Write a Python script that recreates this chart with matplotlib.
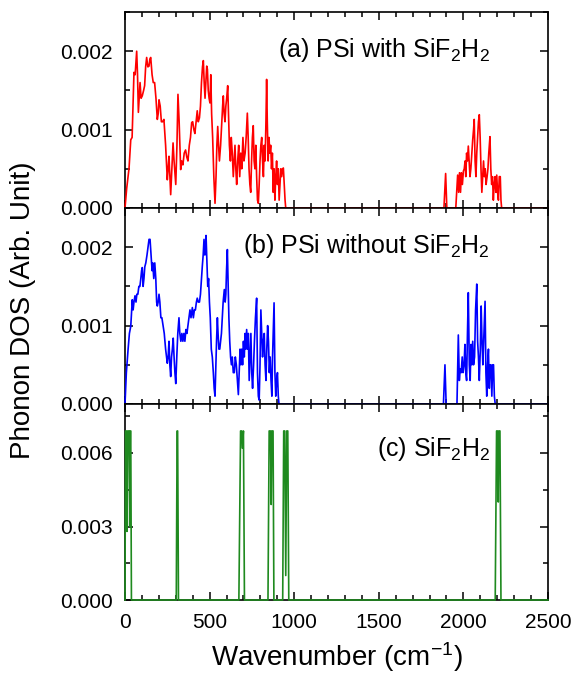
import matplotlib
matplotlib.use("Agg")
import matplotlib.pyplot as plt
from matplotlib.ticker import MultipleLocator, FormatStrFormatter

plt.rcParams['font.family'] = ['Liberation Sans', 'DejaVu Sans']
plt.rcParams['mathtext.fontset'] = 'custom'
plt.rcParams['mathtext.rm'] = 'Liberation Sans'
plt.rcParams['mathtext.it'] = 'Liberation Sans:italic'

# ---------------- data ----------------
red_x = [0, 10, 24, 34, 42, 50, 53, 60, 69, 74, 79, 89, 95, 102, 110, 116, 122, 128, 135, 142, 147, 152,
         160, 167, 175, 183, 191, 196, 201, 208, 215, 222, 230, 240, 250, 255, 260, 265, 270, 277, 284,
         290, 300, 307, 313, 320, 329, 335, 342, 350, 358, 365, 372, 380, 387, 394, 400, 407, 413, 420,
         427, 433, 440, 446, 452, 458, 463, 468, 473, 478, 483, 487, 492, 497, 502, 507, 512, 518, 525,
         532, 538, 543, 548, 553, 558, 565, 572, 577, 581, 586, 591, 596, 601, 607, 612, 617, 623, 628,
         634, 640, 645, 650, 655, 660, 666, 672, 678, 684, 690, 697, 703, 710, 716, 723, 728, 733, 738,
         743, 748, 753, 758, 763, 768, 773, 778, 783, 788, 793, 798, 803, 808, 813, 818, 823, 828, 833,
         837, 841, 846, 851, 856, 861, 866, 871, 876, 881, 886, 891, 896, 901, 906, 911, 916, 921, 926,
         931, 936, 941, 946, 950,
         1885, 1895, 1902, 1955, 1966, 1972, 1977, 1983, 1988, 1994, 2000, 2005, 2010, 2014, 2019, 2024,
         2029, 2034, 2039, 2044, 2050, 2055, 2060, 2064, 2069, 2074, 2079, 2084, 2089, 2094, 2099, 2104,
         2109, 2114, 2119, 2124, 2129, 2134, 2140, 2145, 2150, 2157, 2162, 2167, 2172, 2177, 2182, 2187,
         2192, 2197, 2202, 2207, 2212, 2218, 2222, 2226, 2500]
red_y = [0, 0.00025, 0.00051, 0.00087, 0.0009, 0.0015, 0.00173, 0.0017, 0.0020, 0.0017, 0.00122, 0.0016,
         0.0014, 0.00143, 0.0015, 0.00156, 0.0018, 0.00192, 0.0018, 0.00181, 0.0019, 0.00192,
         0.0017, 0.0016, 0.0016, 0.0014, 0.00113, 0.0012, 0.00138, 0.0013, 0.0011, 0.0011, 0.00113,
         0.0008, 0.00036, 0.0005, 0.00066, 0.0004, 0.00017, 0.0005, 0.00083,
         0.0006, 0.0003, 0.0008, 0.00145, 0.0011, 0.00049, 0.0006, 0.00055, 0.0007, 0.00074, 0.00065,
         0.0006, 0.0008, 0.0009, 0.00109, 0.0011, 0.0010, 0.00095, 0.0011,
         0.00124, 0.0011, 0.00115, 0.0013, 0.0016, 0.0018, 0.00188, 0.0016, 0.0014, 0.0016, 0.00181,
         0.00177, 0.0015, 0.0014, 0.00134, 0.0017, 0.0012, 0.0009, 0.0004,
         0.00006, 0.0004, 0.0008, 0.00104, 0.0008, 0.0006, 0.0008, 0.0011, 0.0013, 0.00143, 0.0012,
         0.0011, 0.0013, 0.0014, 0.00156, 0.0012, 0.0008, 0.0006, 0.0009,
         0.0007, 0.0004, 0.0006, 0.0008, 0.0005, 0.0003, 0.0006, 0.0008, 0.0004, 0.0007, 0.0005,
         0.0009, 0.0006, 0.0007, 0.0009, 0.00121, 0.0009, 0.0005, 0.0003,
         0.0002, 0.0006, 0.0009, 0.00105, 0.0006, 0.0005, 0.0008, 0.0004, 0.0001, 0.00006, 0.0003,
         0.0006, 0.0008, 0.0009, 0.0006, 0.0004, 0.0008, 0.0006, 0.0011,
         0.00164, 0.0011, 0.0006, 0.0009, 0.0007, 0.0008, 0.0005, 0.0007, 0.0002, 0.0005, 0.0001,
         0.0004, 0.0006, 0.0003, 0.0005, 0.0001, 0.0003, 0.0005, 0.0004,
         0.0005, 0.00051, 0.0003, 0.0001, 0,
         0, 0.00044, 0, 0, 0.00042, 0.0002, 0.00045, 0.0002, 0.00045, 0.0003, 0.00047, 0.0005, 0.0006,
         0.0004, 0.0007, 0.0006,
         0.00079, 0.0006, 0.0004, 0.0005, 0.0007, 0.00087, 0.001, 0.00113, 0.0006, 0.0004, 0.0007,
         0.0009, 0.0011, 0.00119, 0.0009, 0.0005,
         0.0002, 0.0004, 0.0006, 0.0004, 0.0005, 0.0003, 0.0004, 0.0005, 0.0007, 0.00091, 0.0005,
         0.0003, 0.0004, 0.0001, 0.0003, 0.0004,
         0.0002, 0.00042, 0.0002, 0.0001, 0.0004, 0.0004, 0.0001, 0, 0]

blue_x = [0, 8, 18, 26, 34, 43, 48, 53, 59, 65, 70, 76, 82, 88, 93, 98, 102, 107, 112, 117, 123, 130,
          136, 142, 148, 154, 160, 164, 170, 176, 182, 187, 191, 196, 201, 206, 212, 218, 225, 232, 240,
          250, 255, 260, 265, 270, 275, 280, 285, 290, 295, 300, 306, 312, 319, 324, 330, 336, 342, 348,
          354, 360, 366, 372, 378, 384, 390, 398, 404, 410, 416, 422, 427, 433, 440, 446, 452, 457, 462,
          467, 472, 476, 479, 483, 489, 494, 499, 504, 510, 516, 522, 527, 532, 537, 541, 546, 550, 555,
          560, 565, 570, 575, 580, 584, 587, 592, 596, 600, 605, 609, 614, 619, 624, 629, 634, 640, 646,
          652, 658, 664, 670, 675, 680, 685, 690, 695, 700, 705, 710, 714, 719, 724, 729, 734, 739, 744,
          749, 754, 760, 765, 771, 778, 783, 788, 793, 798, 803, 808, 813, 818, 823, 828, 833, 838, 843,
          848, 853, 858, 863, 868, 872, 876, 881, 886, 891, 896, 901, 906, 910,
          1882, 1891, 1898, 1962, 1970, 1976, 1981, 1987, 1993, 1998, 2004, 2009, 2014, 2019, 2024, 2029,
          2035, 2040, 2045, 2050, 2055, 2060, 2066, 2072, 2079, 2084, 2089, 2094, 2100, 2105, 2110, 2115,
          2120, 2128, 2133, 2138, 2143, 2148, 2153, 2158, 2163, 2168, 2173, 2178, 2183, 2188, 2500]
blue_y = [0, 0.0004, 0.00069, 0.0009, 0.00099, 0.00133, 0.0012, 0.0013, 0.00138, 0.0013, 0.0014, 0.0014,
          0.0015, 0.0015, 0.00159, 0.0017, 0.00174, 0.0015, 0.0016, 0.00175, 0.0018, 0.0019,
          0.002, 0.0021, 0.0021, 0.0019, 0.0017, 0.0018, 0.0016, 0.0018, 0.0016, 0.0013, 0.00125, 0.0013,
          0.0014, 0.0013, 0.0011, 0.0011, 0.0010, 0.0009, 0.0007,
          0.00052, 0.0006, 0.0008, 0.0005, 0.00035, 0.0006, 0.0007, 0.00084, 0.0006, 0.0004, 0.00026,
          0.0006, 0.0009, 0.0011, 0.0009, 0.0008, 0.0009, 0.0008, 0.0009,
          0.0008, 0.00095, 0.0009, 0.0010, 0.0011, 0.0012, 0.0011, 0.00123, 0.0011, 0.0012, 0.0012,
          0.0013, 0.00135, 0.0013, 0.0013, 0.0014, 0.0016, 0.00176, 0.0019,
          0.0021, 0.0019, 0.0020, 0.00215, 0.0019, 0.0015, 0.0016, 0.0013, 0.0011, 0.0007, 0.0006,
          0.0004, 0.0002, 0.0001, 0.0005, 0.0008, 0.0011, 0.0009, 0.0007,
          0.0007, 0.0008, 0.0009, 0.0011, 0.0013, 0.0014, 0.00146, 0.0013, 0.0014, 0.0017, 0.00197,
          0.0016, 0.0011, 0.0008, 0.0006, 0.0005, 0.0006, 0.0004, 0.0004,
          0.0006, 0.0005, 0.0003, 0.00012, 0.0004, 0.0007, 0.0005, 0.0007, 0.0005, 0.0008, 0.0006,
          0.0009, 0.0007, 0.00095, 0.0007, 0.0009, 0.0003, 0.0006, 0.0009,
          0.0004, 0.0002, 0.0005, 0.0008, 0.0011, 0.00135, 0.0004, 0.0001, 0.00005, 0.0005, 0.0012,
          0.0009, 0.0006, 0.0008, 0.0009, 0.0005, 0.0003, 0.0007, 0.001,
          0.0008, 0.0004, 0.0006, 0.0003, 0.0001, 0.0006, 0.0009, 0.00129, 0.0004, 0.0001, 0.0003,
          0.0004, 0.0001, 0,
          0, 0.0005, 0, 0, 0.00088, 0.0003, 0.00045, 0.0004, 0.0006, 0.0004, 0.0005, 0.00076, 0.0004,
          0.0003, 0.0009, 0.00142,
          0.0005, 0.0003, 0.00076, 0.0005, 0.0008, 0.0005, 0.0006, 0.0012, 0.00153, 0.0008, 0.0006,
          0.0003, 0.0007, 0.00125, 0.0008, 0.0005,
          0.0008, 0.00131, 0.0004, 0.0001, 0.0005, 0.0007, 0.0002, 0.0005, 0.0005, 0.0001, 0.0005,
          0.0005, 0.0001, 0, 0]

green_x = [0, 3, 8, 12, 16, 24, 28, 31, 34, 38,
           303, 308, 311, 316,
           673, 683, 690, 693, 700, 706,
           845, 852, 860, 864, 868, 875, 880,
           932, 938, 944, 950, 956, 962, 968,
           2188, 2196, 2202, 2206, 2210, 2216, 2222, 2500]
green_y = [0, 0.0069, 0.0069, 0.0028, 0.0069, 0.0069, 0.0030, 0.0069, 0.0069, 0,
           0, 0.0069, 0.0069, 0,
           0, 0.0069, 0.0069, 0.0062, 0.0069, 0,
           0, 0.0069, 0.0069, 0.0039, 0.0069, 0.0069, 0,
           0, 0.0069, 0.0069, 0.0010, 0.0069, 0.0069, 0,
           0, 0.0069, 0.0069, 0.0040, 0.0069, 0.0069, 0, 0]

labels = [r'(a) PSi with SiF$_2$H$_2$', r'(b) PSi without SiF$_2$H$_2$', r'(c) SiF$_2$H$_2$']
x_ticks = [0, 500, 1000, 1500, 2000, 2500]

# ---------------- figure ----------------
fig = plt.figure(figsize=(5.73, 6.81), dpi=100)
L, R = 125 / 573, 548 / 573
tops = [12, 208, 404]
h = 196
axes = []
for t in tops:
    ax = fig.add_axes([L, 1 - (t + h) / 681, R - L, h / 681])
    axes.append(ax)

series = [(red_x, red_y, '#ff0000'), (blue_x, blue_y, '#0000ff'), (green_x, green_y, '#1f8a1f')]
ylims = [(0, 0.0025), (0, 0.0025), (0, 0.0080)]
majors = [0.001, 0.001, 0.003]
minors = [0.0005, 0.0005, 0.0015]
text_y = [0.772, 0.769, 0.735]

for i, ax in enumerate(axes):
    xs, ys, c = series[i]
    ax.plot(xs, ys, color=c, lw=1.2, zorder=3, clip_on=False)
    ax.set_xlim(0, 2500)
    ax.set_ylim(*ylims[i])
    ax.xaxis.set_major_locator(MultipleLocator(500))
    ax.xaxis.set_minor_locator(MultipleLocator(100))
    ax.yaxis.set_major_locator(MultipleLocator(majors[i]))
    ax.yaxis.set_minor_locator(MultipleLocator(minors[i]))
    ax.yaxis.set_major_formatter(FormatStrFormatter('%.3f'))
    ax.tick_params(which='both', direction='in', top=True, right=True, width=1.1,
                   labelsize=15, pad=9)
    ax.tick_params(which='major', length=5.5)
    ax.tick_params(which='minor', length=3.5)
    for s in ax.spines.values():
        s.set_linewidth(1.2)
    if i < 2:
        ax.tick_params(labelbottom=False)
    else:
        ax.set_xticks(x_ticks)
    ax.text(0.863, text_y[i], labels[i], transform=ax.transAxes, ha='right', va='baseline',
            fontsize=18)

axes[2].set_xlabel(r'Wavenumber (cm$^{-1}$)', fontsize=20, labelpad=6)
fig.text(0.04, 0.545, 'Phonon DOS (Arb. Unit)', rotation=90, ha='center', va='center', fontsize=20)

fig.savefig('out.png', dpi=100)
